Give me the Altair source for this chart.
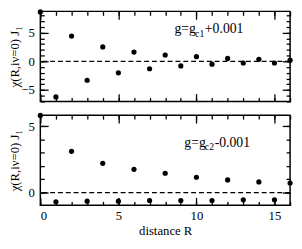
import altair as alt
import pandas as pd

# ---- data ----
R = list(range(17))
chi_c1 = [8.6, -6.2, 4.4, -3.3, 2.5, -2.0, 1.6, -1.3, 1.1, -0.8, 0.8, -0.5, 0.5, -0.3, 0.35, -0.3, 0.2]
chi_c2 = [5.8, -0.7, 3.1, -0.65, 2.2, -0.65, 1.75, -0.6, 1.45, -0.6, 1.15, -0.6, 0.95, -0.55, 0.8, -0.55, 0.72]

x_major = [0, 5, 10, 15]
x_minor = list(range(0, 17))
y1_major = [-5, 0, 5]
y1_minor = list(range(-7, 9))
y2_major = [0, 5]
y2_minor = list(range(0, 6))
x_dom = [0, 16]
y1_dom = [-7.0, 8.7]
y2_dom = [-0.96, 5.82]

y_title = "χ(R,iν=0) J₁"
x_title = "distance R"
label1 = ["g=g", "c1", "+0.001"]
label2 = ["g=g", "c2", "-0.001"]

FONT = "Liberation Serif"
W, H = 255, 92


def tick_axis(orient, values, size):
    return alt.Axis(orient=orient, values=values, ticks=True, tickSize=size,
                    offset=-size, tickColor="black", tickWidth=1.3,
                    labels=False, domain=False, grid=False, title=None)


def panel(vals, ydom, ymaj, ymin, show_x, label, lab_x, lab_y):
    df = pd.DataFrame({"R": R, "chi": vals})
    xs = alt.Scale(domain=x_dom, nice=False, zero=False)
    ys = alt.Scale(domain=ydom, nice=False, zero=False)

    x_lab = alt.Axis(orient="bottom", values=x_major, ticks=False, tickSize=0,
                     domain=False, grid=False, labels=show_x, labelFont=FONT,
                     labelFontSize=13, labelColor="black", labelPadding=5,
                     title=x_title if show_x else None, titleFont=FONT,
                     titleFontSize=13, titleFontWeight="normal", titleColor="black",
                     titlePadding=2)
    y_lab = alt.Axis(orient="left", values=ymaj, ticks=False, tickSize=0,
                     domain=False, grid=False, labelFont=FONT, labelFontSize=13,
                     labelColor="black", labelPadding=6, title=y_title,
                     titleFont=FONT, titleFontSize=13, titleFontWeight="normal",
                     titleColor="black", titleX=-26, titleBaseline="middle",
                     titleAngle=270)

    base = alt.Chart(df)
    pts = base.mark_circle(size=28, color="black", opacity=1).encode(
        x=alt.X("R:Q", scale=xs, axis=x_lab),
        y=alt.Y("chi:Q", scale=ys, axis=y_lab),
    )
    layers = [pts]
    for xo, yo, xv, yv, sz in [("bottom", "left", x_major, ymaj, 8),
                               ("bottom", "left", x_minor, ymin, 4),
                               ("top", "right", x_major, ymaj, 8),
                               ("top", "right", x_minor, ymin, 4)]:
        layers.append(base.mark_circle(opacity=0).encode(
            x=alt.X("R:Q", scale=xs, axis=tick_axis(xo, xv, sz)),
            y=alt.Y("chi:Q", scale=ys, axis=tick_axis(yo, yv, sz)),
        ))
    zero = alt.Chart(pd.DataFrame({"z": [0]})).mark_rule(
        color="black", strokeDash=[5, 3], strokeWidth=1.3
    ).encode(y=alt.Y("z:Q", scale=ys, axis=None))
    layers.append(zero)

    t1 = alt.Chart(pd.DataFrame({"t": [label[0]]})).mark_text(
        font=FONT, fontSize=14, align="left", baseline="alphabetic", color="black"
    ).encode(text="t:N", x=alt.value(lab_x), y=alt.value(lab_y))
    t2 = alt.Chart(pd.DataFrame({"t": [label[1]]})).mark_text(
        font=FONT, fontSize=10, align="left", baseline="alphabetic", color="black"
    ).encode(text="t:N", x=alt.value(lab_x + 21), y=alt.value(lab_y + 4))
    t3 = alt.Chart(pd.DataFrame({"t": [label[2]]})).mark_text(
        font=FONT, fontSize=14, align="left", baseline="alphabetic", color="black"
    ).encode(text="t:N", x=alt.value(lab_x + 31), y=alt.value(lab_y))
    layers += [t1, t2, t3]

    return alt.layer(*layers).resolve_axis(x="independent", y="independent").properties(
        width=W, height=H)


top = panel(chi_c1, y1_dom, y1_major, y1_minor, False, label1, 137, 22)
bottom = panel(chi_c2, y2_dom, y2_major, y2_minor, True, label2, 147, 32)

chart = alt.vconcat(top, bottom, spacing=8).properties(
    padding={"left": 0, "top": -2, "right": 0, "bottom": 0}
).configure_view(stroke="black", strokeWidth=1.5)

chart.save("out.html", embed_options={"renderer": "svg", "actions": False})
